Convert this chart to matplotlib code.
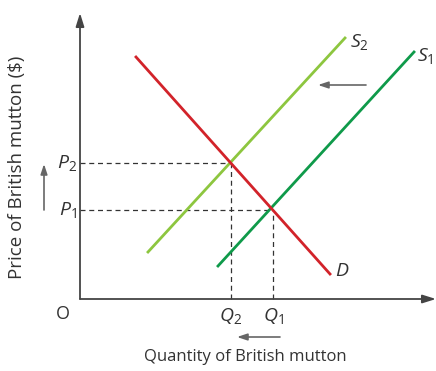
import matplotlib
matplotlib.use("Agg")
import matplotlib.pyplot as plt

plt.rcParams['font.family'] = 'Open Sans'
plt.rcParams['mathtext.fontset'] = 'custom'
plt.rcParams['mathtext.rm'] = 'Open Sans'
plt.rcParams['mathtext.it'] = 'Open Sans:italic'

# curve endpoints (quantity, price)
demand_q = [56, 250]
demand_p = [242, 25]
supply2_q = [68, 265]
supply2_p = [47, 261]
supply1_q = [138, 334]
supply1_p = [33, 247]

# equilibria
Q1, P1 = 193, 89
Q2, P2 = 151, 136

fig = plt.figure(figsize=(4.36, 3.71), dpi=100)
ax = fig.add_axes([0, 0, 1, 1])
ax.set_xlim(-80, 356)
ax.set_ylim(-72, 299)
ax.axis('off')

axis_col = '#444444'
arrow_col = '#666666'
text_col = '#333333'

# axes with arrow heads
ax.annotate('', xy=(0, 286), xytext=(0, 0),
            arrowprops=dict(arrowstyle='-|>,head_length=0.8,head_width=0.25',
                            color=axis_col, lw=1.3, shrinkA=0, shrinkB=0))
ax.annotate('', xy=(356, 0), xytext=(0, 0),
            arrowprops=dict(arrowstyle='-|>,head_length=0.8,head_width=0.25',
                            color=axis_col, lw=1.3, shrinkA=0, shrinkB=0))

# dashed guides
dash = dict(ls=(0, (4, 3)), color='#333333', lw=0.9)
ax.plot([0, Q2], [P2, P2], **dash)
ax.plot([Q2, Q2], [0, P2], **dash)
ax.plot([0, Q1], [P1, P1], **dash)
ax.plot([Q1, Q1], [0, P1], **dash)

ax.plot(supply2_q, supply2_p, color='#8dc63f', lw=2)
ax.plot(supply1_q, supply1_p, color='#0f9a4a', lw=2)
ax.plot(demand_q, demand_p, color='#d2232a', lw=2)

# shift arrows
arr = dict(arrowstyle='-|>,head_length=0.6,head_width=0.2', color=arrow_col,
           lw=1.2, shrinkA=0, shrinkB=0)
ax.annotate('', xy=(238, 214), xytext=(286, 214), arrowprops=arr)
ax.annotate('', xy=(-36, 135), xytext=(-36, 89), arrowprops=arr)
ax.annotate('', xy=(157, -38), xytext=(200, -38), arrowprops=arr)

fs = 14
ax.text(-3, P2, r'$P_2$', ha='right', va='center', fontsize=fs, color=text_col)
ax.text(-3, P1, r'$P_1$', ha='right', va='center', fontsize=fs, color=text_col)
ax.text(Q2, -7, r'$Q_2$', ha='center', va='top', fontsize=fs, color=text_col)
ax.text(Q1, -7, r'$Q_1$', ha='center', va='top', fontsize=fs, color=text_col)
ax.text(-17, -15, 'O', ha='center', va='center', fontsize=13, color=text_col)
ax.text(270, 257, r'$S_2$', ha='left', va='center', fontsize=fs, color=text_col)
ax.text(337, 243, r'$S_1$', ha='left', va='center', fontsize=fs, color=text_col)
ax.text(255, 28, r'$D$', ha='left', va='center', fontsize=fs, color=text_col)

ax.text(165, -58, 'Quantity of British mutton', ha='center', va='center',
        fontsize=12, color=text_col)
ax.text(-63, 132, 'Price of British mutton ($)', ha='center', va='center',
        rotation=90, fontsize=13.5, color=text_col)

fig.savefig('out.png', dpi=100)
